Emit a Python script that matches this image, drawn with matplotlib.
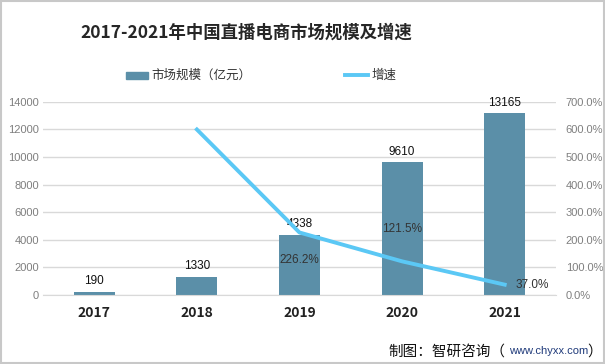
import numpy as np
import matplotlib.pyplot as plt
from matplotlib.patches import Rectangle

plt.rcParams['font.family'] = ['Noto Sans CJK SC', 'DejaVu Sans']

years = ['2017', '2018', '2019', '2020', '2021']
scale = [190, 1330, 4338, 9610, 13165]
growth_years = ['2018', '2019', '2020', '2021']
growth = [600.0, 226.2, 121.5, 37.0]
growth_labels = ['', '226.2%', '121.5%', '37.0%']

bar_color = '#5b8fa8'
line_color = '#5bc8f5'
latin = ['Liberation Sans', 'DejaVu Sans']

fig = plt.figure(figsize=(6.05, 3.64), dpi=100)
fig.patches.append(Rectangle((0.002, 0.003), 0.996, 0.994, transform=fig.transFigure,
                             fill=False, edgecolor='#c8c8c8', linewidth=1.5))

ax = fig.add_axes([0.071, 0.19, 0.848, 0.53])
x = np.arange(len(years))
ax.bar(x, scale, width=0.4, color=bar_color, zorder=2)
for xi, v in zip(x, scale):
    ax.text(xi, v + 350, str(v), ha='center', va='bottom', fontsize=8.5, color='#111111',
            family=latin)

ax.set_xlim(-0.5, len(years) - 0.5)
ax.set_ylim(0, 14000)
ax.set_yticks(np.arange(0, 14001, 2000))
ax.set_yticklabels([str(v) for v in np.arange(0, 14001, 2000)], family=latin)
ax.set_xticks(x)
ax.set_xticklabels(years, fontsize=10, fontweight='bold', color='#222222')
ax.tick_params(axis='y', labelsize=8, labelcolor='#7f7f7f', length=0, pad=3)
ax.tick_params(axis='x', length=0, pad=8)
ax.grid(axis='y', color='#d9d9d9', linewidth=1, zorder=0)
ax.set_axisbelow(True)
for s in ax.spines.values():
    s.set_visible(False)
ax.spines['bottom'].set_visible(True)
ax.spines['bottom'].set_color('#d9d9d9')

ax2 = ax.twinx()
gx = [years.index(y) for y in growth_years]
ax2.plot(gx, growth, color=line_color, linewidth=2.8, zorder=3)
ax2.set_ylim(0, 700)
ax2.set_yticks(np.arange(0, 701, 100))
ax2.set_yticklabels([f'{v:.1f}%' for v in np.arange(0, 701, 100)], family=latin)
ax2.tick_params(axis='y', labelsize=8, labelcolor='#7f7f7f', length=0, pad=7)
for s in ax2.spines.values():
    s.set_visible(False)

offsets = [(0, 0), (0, -20), (0, 23), (0.27, 0)]
for xi, v, lab, (dx, dy) in zip(gx, growth, growth_labels, offsets):
    if lab:
        ax2.annotate(lab, (xi + dx, v), xytext=(0, dy), textcoords='offset points',
                     ha='center', va='center', fontsize=8.5, color='#333333', family=latin)

fig.text(0.407, 0.909, '2017-2021年中国直播电商市场规模及增速', ha='center', va='center',
         fontsize=12.5, fontweight='bold', color='#262626')

fig.patches.append(Rectangle((126 / 605, 1 - 79 / 364), 22 / 605, 7 / 364,
                             transform=fig.transFigure, color=bar_color))
fig.text(151 / 605, 1 - 75 / 364, '市场规模（亿元）', va='center', fontsize=9, color='#333333')
fig.lines.append(plt.Line2D([345 / 605, 368 / 605], [1 - 75 / 364, 1 - 75 / 364],
                            transform=fig.transFigure, color=line_color, linewidth=2.8))
fig.text(372 / 605, 1 - 75 / 364, '增速', va='center', fontsize=9, color='#333333')

fig.text(388 / 605, 0.035, '制图：智研咨询（', ha='left', va='center', fontsize=10.5, color='#111111')
fig.text(509 / 605, 0.035, 'www.chyxx.com', ha='left', va='center', fontsize=8,
         color='#1f3a7a', family=latin)
fig.text(602 / 605, 0.035, '）', ha='right', va='center', fontsize=10.5, color='#111111')

fig.savefig('out.png', dpi=100)
